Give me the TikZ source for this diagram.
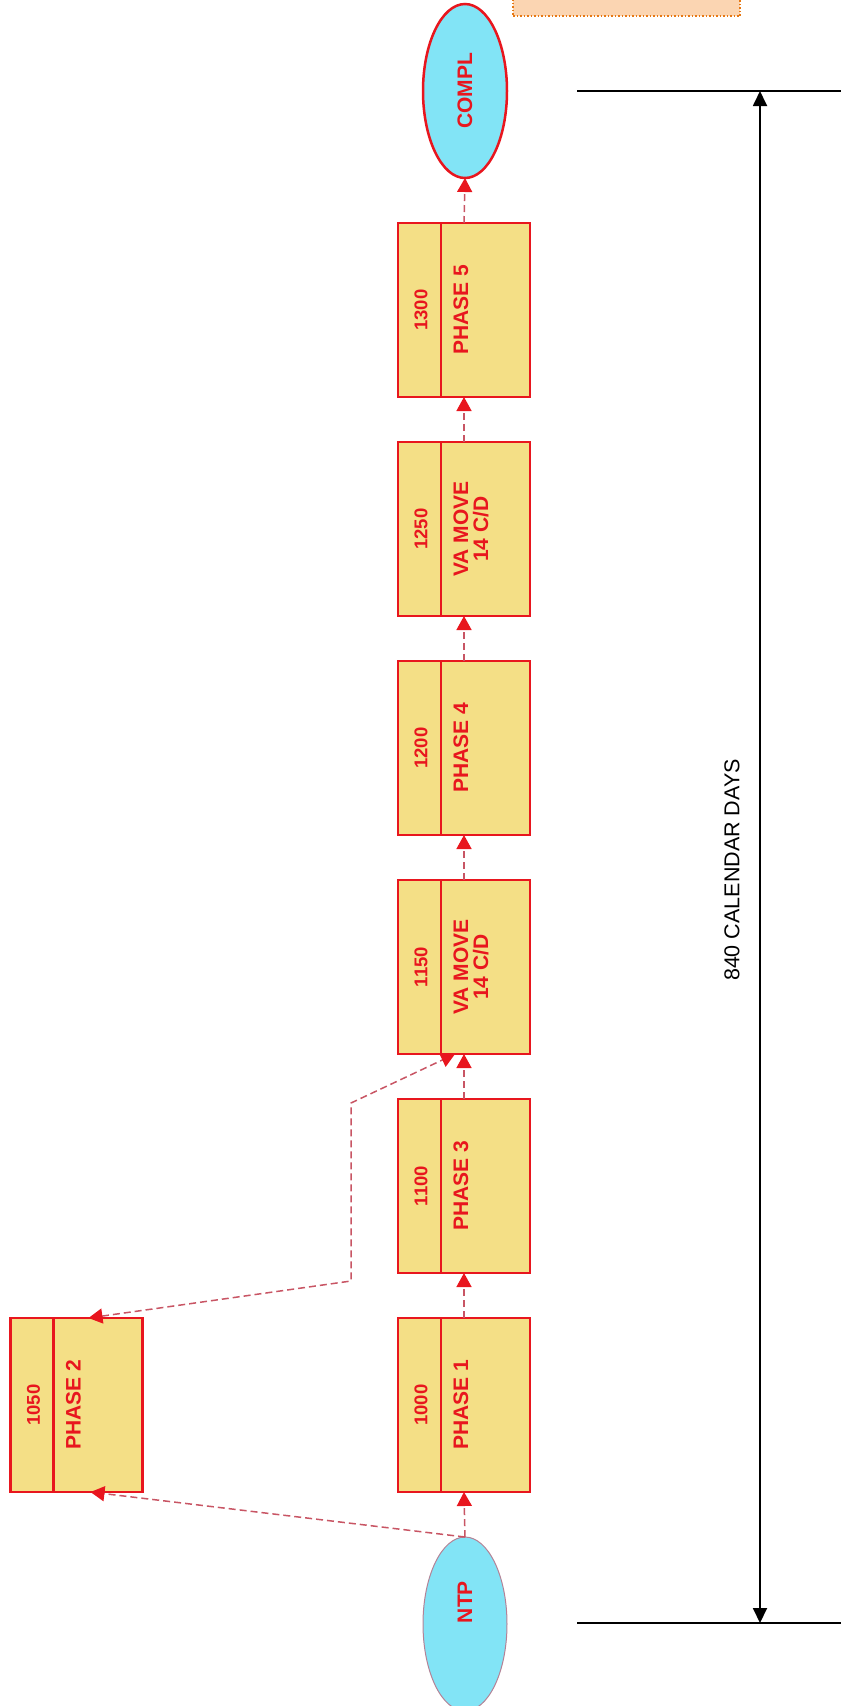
\documentclass[tikz,border=0pt]{standalone}
\usepackage{fontspec}
\setmainfont{Liberation Sans}
\usetikzlibrary{arrows.meta,shapes.geometric}
\definecolor{boxfill}{RGB}{244,223,134}
\definecolor{boxred}{RGB}{232,22,30}
\definecolor{linepink}{RGB}{200,85,100}
\definecolor{ellcyan}{RGB}{130,228,246}
\definecolor{peach}{RGB}{251,213,178}
\definecolor{noteorange}{RGB}{230,120,20}
\definecolor{ntpborder}{RGB}{180,130,150}
\tikzset{
  taskbox/.style={draw=boxred, fill=boxfill, line width=2.5pt, minimum width=132pt, minimum height=174pt, inner sep=0pt, outer sep=0pt},
  divline/.style={draw=boxred, line width=2.5pt},
  numtext/.style={text=boxred, rotate=90, font=\fontsize{18.5}{18.5}\selectfont\bfseries, inner sep=0pt},
  labtext/.style={text=boxred, rotate=90, font=\fontsize{21}{20}\selectfont\bfseries, inner sep=0pt, align=center},
  dep/.style={draw=linepink, line width=1.5pt, dash pattern=on 7pt off 4pt, -{Triangle[width=15pt,length=14pt,color=boxred,fill=boxred]}},
  depboth/.style={draw=linepink, line width=1.5pt, dash pattern=on 7pt off 4pt, {Triangle[width=15pt,length=14pt,color=boxred,fill=boxred]}-{Triangle[width=15pt,length=14pt,color=boxred,fill=boxred]}},
  milestone/.style={ellipse, fill=ellcyan, minimum width=84pt, minimum height=174pt, inner sep=0pt, outer sep=0pt},
  dimline/.style={draw=black, line width=2pt},
  dimarrow/.style={draw=black, line width=1.8pt, {Triangle[width=14pt,length=15pt]}-{Triangle[width=14pt,length=15pt]}},
  notebox/.style={draw=noteorange, fill=peach, dotted, line width=1.5pt, minimum width=227pt, minimum height=30pt, inner sep=0pt}
}
\newcommand{\taskunit}[4]{%
  \node[taskbox] (#1) at (#2,#3) {};
  \draw[divline] ([xshift=43pt]#1.north west) -- ([xshift=43pt]#1.south west);
  \node[numtext] (#1num) at ([xshift=23pt]#1.west) {#4};
}
\begin{document}
\begin{tikzpicture}[x=1pt,y=-1pt]
\useasboundingbox (0,0) rectangle (841,1706);
% note box at top
\node[notebox] (note) at (626.5,1) {};
% milestones
\node[milestone, draw=boxred, line width=2.5pt] (compl) at (465,91) {};
\node[numtext, font=\fontsize{21}{21}\selectfont\bfseries] (compltext) at (compl.center) {COMPL};
\node[milestone, draw=ntpborder, line width=1pt] (ntp) at (465,1624) {};
\node[numtext, font=\fontsize{21}{21}\selectfont\bfseries] (ntptext) at (465,1602) {NTP};
% tasks
\taskunit{t1300}{464}{310}{1300}
\node[labtext] (t1300lab) at ([xshift=63pt]t1300.west) {PHASE 5};
\taskunit{t1250}{464}{529}{1250}
\node[labtext] (t1250lab) at ([xshift=73pt]t1250.west) {VA MOVE\\14 C/D};
\taskunit{t1200}{464}{748}{1200}
\node[labtext] (t1200lab) at ([xshift=63pt]t1200.west) {PHASE 4};
\taskunit{t1150}{464}{967}{1150}
\node[labtext] (t1150lab) at ([xshift=73pt]t1150.west) {VA MOVE\\14 C/D};
\taskunit{t1100}{464}{1186}{1100}
\node[labtext] (t1100lab) at ([xshift=63pt]t1100.west) {PHASE 3};
\taskunit{t1000}{464}{1405}{1000}
\node[labtext] (t1000lab) at ([xshift=63pt]t1000.west) {PHASE 1};
\taskunit{t1050}{76.5}{1405}{1050}
\node[labtext] (t1050lab) at ([xshift=63pt]t1050.west) {PHASE 2};
% dependencies
\draw[dep] (ntp.north) -- (t1000.south);
\draw[dep] (t1000.north) -- (t1100.south);
\draw[dep] (t1100.north) -- (t1150.south);
\draw[dep] (t1150.north) -- (t1200.south);
\draw[dep] (t1200.north) -- (t1250.south);
\draw[dep] (t1250.north) -- (t1300.south);
\draw[dep] (t1300.north) -- (compl.south);
\draw[dep] (ntp.north) -- ([xshift=14pt]t1050.south);
\coordinate (bendlow) at (351,1281);
\coordinate (bendhigh) at (351,1103);
\draw[depboth] ([xshift=12pt]t1050.north) -- (bendlow) -- (bendhigh) -- ([xshift=-9pt]t1150.south);
% dimension
\coordinate (toplineL) at (577,91);
\coordinate (toplineR) at (841,91);
\coordinate (botlineL) at (577,1623);
\coordinate (botlineR) at (841,1623);
\coordinate (dimtop) at (760,91);
\coordinate (dimbot) at (760,1623);
\draw[dimline] (toplineL) -- (toplineR);
\draw[dimline] (botlineL) -- (botlineR);
\draw[dimarrow] (dimtop) -- (dimbot);
\node[rotate=90, font=\fontsize{21.5}{21.5}\selectfont, inner sep=0pt] (dimlabel) at (732,870) {840 CALENDAR DAYS};
\end{tikzpicture}
\end{document}
